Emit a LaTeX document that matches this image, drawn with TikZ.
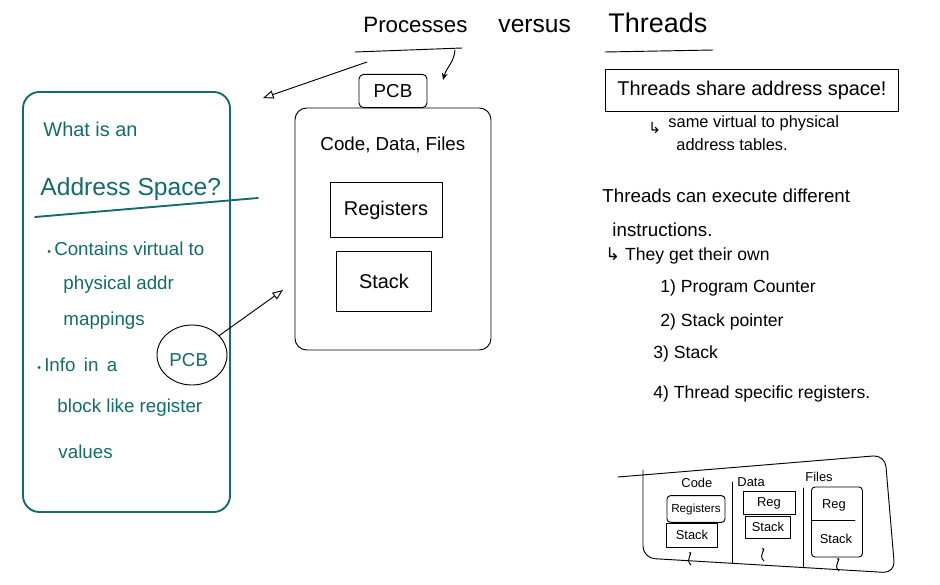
\documentclass[tikz,border=0pt]{standalone}
\usepackage{fontspec}
\setmainfont{Liberation Sans}
\newfontfamily\symfont{DejaVu Sans}
\usetikzlibrary{arrows.meta,shapes.geometric}
\definecolor{marker}{RGB}{18,108,108}
\newcommand\fsz[1]{\fontsize{#1}{#1}\selectfont}

\begin{document}
\begin{tikzpicture}[x=0.03cm, y=-0.03cm,
    line width=0.8pt, line cap=round, line join=round,
    txt/.style={inner sep=0pt, anchor=base west},
    box/.style={draw, inner sep=0pt},
    ink/.style={draw=marker, line width=1.6pt}]
  \fill[white] (0,0) rectangle (940,585);
  \useasboundingbox (0,0) rectangle (940,585);

  % title
  \node[txt, font=\fsz{19}] (ttlproc) at (363,32) {Processes};
  \node[txt, font=\fsz{21}] (ttlvs) at (498,32) {versus};
  \node[txt, font=\fsz{23}] (ttlthr) at (608,32) {Threads};
  \draw (355,52) -- (462,48);
  \draw (605,52) -- (713,50);
  \coordinate (procL) at (367,62);
  \coordinate (procR) at (455,50);
  \coordinate (tipL) at (263,98);
  \coordinate (tipT) at (443,80);
  \draw[-{Triangle[open,length=9pt,width=7pt]}] (procL) -- (tipL);
  \draw[-{Stealth[length=6pt,width=5pt]}] (procR) to[out=-95,in=75] (tipT);

  % address space card
  \node[ink, rounded corners=14pt, minimum width=6.21cm, minimum height=12.6cm] (aspace) at (126.5,302) {};
  \begin{scope}[marker]
    \node[txt, font=\fsz{17}] (aq1) at (43,136) {What is an};
    \node[txt, font=\fsz{21}] (aq2) at (40,195) {Address Space?};
    \draw[ink] (35,217) -- (258,198);
    \node[txt, font=\fsz{16}] (ab1) at (47,255) {{\fsz{9}\textbullet}\,Contains virtual to};
    \node[txt, font=\fsz{16}] (ab2) at (63,289) {physical addr};
    \node[txt, font=\fsz{16}] (ab3) at (63,325) {mappings};
    \node[txt, font=\fsz{16}] (ab4) at (37,371) {{\fsz{9}\textbullet}\,Info\, in\, a};
    \node[txt, font=\fsz{16}] (pcbword) at (169,366) {PCB};
    \node[txt, font=\fsz{16}] (ab5) at (57,412) {block like register};
    \node[txt, font=\fsz{16}] (ab6) at (58,458) {values};
  \end{scope}
  \node[draw, ellipse, minimum width=2.1cm, minimum height=1.8cm] (pcbring) at (192,355) {};
  \coordinate (tipR) at (283,290);
  \draw[-{Triangle[open,length=9pt,width=7pt]}] (pcbring) -- (tipR);

  % process
  \node[box, rounded corners=10pt, minimum width=5.88cm, minimum height=7.26cm] (proc) at (393,229) {};
  \node[box, rounded corners=4pt, minimum width=2.04cm, minimum height=1cm, fill=white, font=\fsz{16}] (pcb) at (393,91) {PCB};
  \node[txt, font=\fsz{16}] (cdf) at (320,150) {Code, Data, Files};
  \node[box, minimum width=3.36cm, minimum height=1.65cm, font=\fsz{17}] (regs) at (386,210) {Registers};
  \node[box, minimum width=2.85cm, minimum height=1.8cm, font=\fsz{17}] (stk) at (384,281) {Stack};

  % threads notes
  \node[box, minimum width=8.8cm, minimum height=1.26cm, font=\fsz{17}] (share) at (752,90) {Threads share address space!};
  \node[txt, font=\symfont\fsz{13}] (hook1) at (648,133) {↳};
  \node[txt, font=\fsz{14}] (sub1) at (668,127) {same virtual to physical};
  \node[txt, font=\fsz{14}] (sub2) at (676,150) {address tables.};
  \node[txt, font=\fsz{16}] (exe1) at (602,202) {Threads can execute different};
  \node[txt, font=\fsz{16}] (exe2) at (612,236) {instructions.};
  \node[txt, font=\fsz{15}] (own) at (605,260) {{\symfont↳} They get their own};
  \node[txt, font=\fsz{15}] (own1) at (660,292) {1) Program Counter};
  \node[txt, font=\fsz{15}] (own2) at (660,326) {2) Stack pointer};
  \node[txt, font=\fsz{15}] (own3) at (653,358) {3) Stack};
  \node[txt, font=\fsz{15}] (own4) at (653,398) {4) Thread specific registers.};

  % multi-threaded process
  \draw[rounded corners=10pt] (618,477) -- (885,455) -- (895,573) -- (643,558) -- (643,470);
  \draw (732,482) -- (732,563);
  \draw (803,488) -- (803,567);
  \node[txt, font=\fsz{11}] (lcode) at (681,487) {Code};
  \node[txt, font=\fsz{11}] (ldata) at (737,486) {Data};
  \node[txt, font=\fsz{11}] (lfiles) at (805,481) {Files};
  \node[box, rounded corners=3pt, minimum width=1.74cm, minimum height=0.8cm, font=\fsz{10}] (regA) at (696,509) {Registers};
  \node[box, minimum width=1.53cm, minimum height=0.72cm, font=\fsz{11}] (stkA) at (692,535) {Stack};
  \node[box, minimum width=1.56cm, minimum height=0.69cm, font=\fsz{11}] (regB) at (769,503) {Reg};
  \node[box, minimum width=1.35cm, minimum height=0.66cm, font=\fsz{11}] (stkB) at (768,527) {Stack};
  \node[box, rounded corners=3pt, minimum width=1.53cm, minimum height=2.1cm] (colC) at (837,522) {};
  \draw (812,520) -- (855,520);
  \node[font=\fsz{11}, inner sep=0pt] (regC) at (834,505) {Reg};
  \node[font=\fsz{11}, inner sep=0pt] (stkC) at (836,539) {Stack};
  \foreach \sx/\sy in {689/553, 762/549, 837/559}
    \draw (\sx,\sy) .. controls (\sx+6,\sy-2) and (\sx-5,\sy+6) .. (\sx+2,\sy+12);
\end{tikzpicture}
\end{document}
